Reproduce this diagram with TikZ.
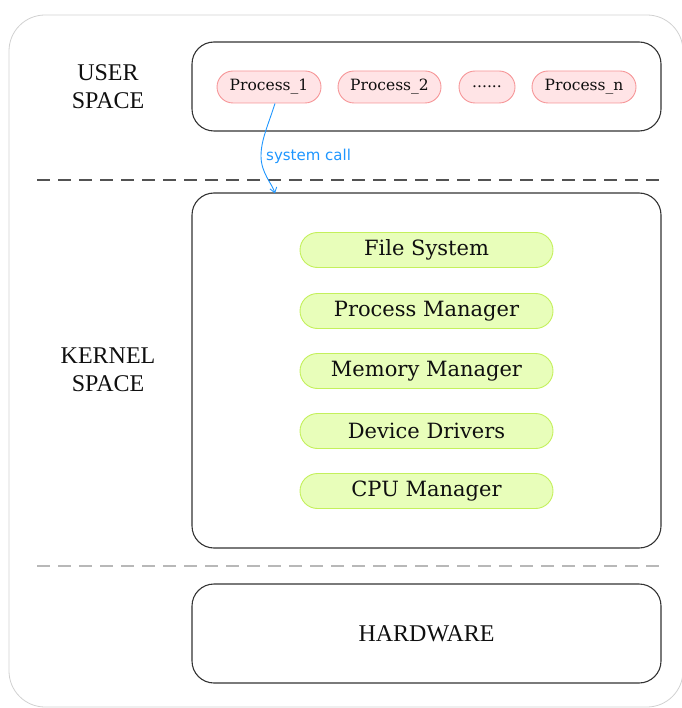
\documentclass[tikz,border=0pt]{standalone}
\usepackage{fontspec}
\setmainfont{DejaVu Serif}
\newfontfamily\labelfont{Liberation Serif}
\newfontfamily\callfont{DejaVu Sans}
\usetikzlibrary{arrows.meta}
\definecolor{pinkfill}{RGB}{255,228,230}
\definecolor{pinkdraw}{RGB}{246,150,152}
\definecolor{greenfill}{RGB}{232,254,186}
\definecolor{greendraw}{RGB}{196,240,92}
\definecolor{callblue}{RGB}{30,150,255}
\definecolor{txt}{RGB}{15,15,15}
\tikzset{
  bigbox/.style={draw=black!80, line width=1.1pt, rounded corners=22pt, minimum width=469pt, inner sep=0pt, text=txt},
  procbox/.style={draw=pinkdraw, fill=pinkfill, line width=0.9pt, rounded corners=16pt, minimum height=32pt, inner sep=0pt, text=txt, font=\fontsize{15.5}{17}\selectfont},
  modbox/.style={draw=greendraw, fill=greenfill, line width=0.9pt, rounded corners=17.5pt, minimum width=253pt, minimum height=35pt, inner sep=0pt, text=txt, font=\fontsize{21}{24}\selectfont},
  sidelabel/.style={align=center, text=txt, font=\labelfont\fontsize{24}{28}\selectfont},
  sepline/.style={dash pattern=on 13pt off 8pt, line width=1.5pt}
}
\begin{document}
\begin{tikzpicture}[x=1pt,y=-1pt]
\useasboundingbox (0,0) rectangle (681,708);
% outer frame
\draw[black!18, line width=0.8pt, rounded corners=36pt] (9,15) rectangle (683,707);

% user space
\node[bigbox, minimum height=89pt] (user) at (426.5,86.5) {};
\node[procbox, minimum width=104pt] (p1) at (269,87) {Process\_1};
\node[procbox, minimum width=103pt] (p2) at (389.5,87) {Process\_2};
\node[procbox, minimum width=56pt] (pd) at (487,87) {......};
\node[procbox, minimum width=104pt] (pn) at (584,87) {Process\_n};
\node[sidelabel] (ulabel) at (108,87) {USER\\SPACE};

% separators
\coordinate (s1a) at (37,180);
\coordinate (s1b) at (661,180);
\draw[sepline, black!68] (s1a) -- (s1b);
\coordinate (s2a) at (37,566);
\coordinate (s2b) at (661,566);
\draw[sepline, black!28] (s2a) -- (s2b);

% kernel space
\node[bigbox, minimum height=355pt] (kernel) at (426.5,370.5) {};
\node[modbox] (fs) at (426.5,250) {File System};
\node[modbox] (pm) at (426.5,311) {Process Manager};
\node[modbox] (mm) at (426.5,371) {Memory Manager};
\node[modbox] (dd) at (426.5,431) {Device Drivers};
\node[modbox] (cpu) at (426.5,491) {CPU Manager};
\node[sidelabel] (klabel) at (108,370) {KERNEL\\SPACE};

% hardware
\node[bigbox, minimum height=99pt, font=\labelfont\fontsize{24}{28}\selectfont] (hw) at (426.5,633.5) {HARDWARE};

% system call
\coordinate (bend) at (261,156);
\draw[callblue, line width=0.9pt, -{Straight Barb[length=5pt,width=7pt]}]
  ([xshift=6pt]p1.south) .. controls +(-7,22) and +(0,-16) .. (bend)
  .. controls +(0,17) and +(-3,-10) .. ([xshift=-151.5pt,yshift=-1pt]kernel.north);
\node[anchor=west, text=callblue, font=\callfont\fontsize{15}{17}\selectfont, inner sep=0pt] (sc) at (266,156) {system call};
\end{tikzpicture}
\end{document}
